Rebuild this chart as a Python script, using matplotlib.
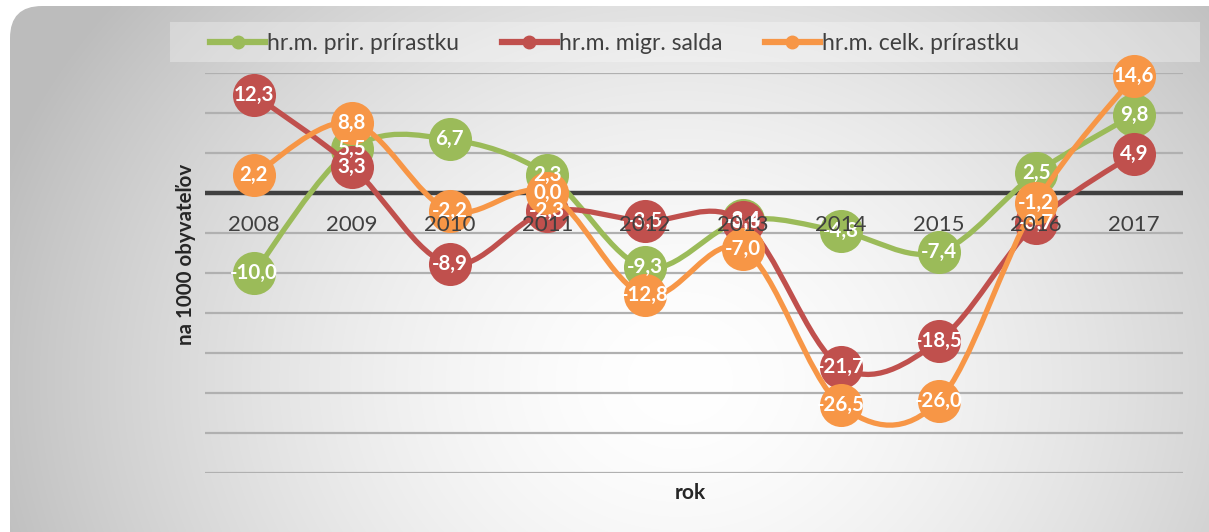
import numpy as np
import matplotlib
matplotlib.use("Agg")
import matplotlib.pyplot as plt
from matplotlib.path import Path
from matplotlib.patches import PathPatch, FancyBboxPatch, Rectangle
from matplotlib.lines import Line2D

plt.rcParams['font.family'] = ['Lato', 'DejaVu Sans']

years = ['2008', '2009', '2010', '2011', '2012', '2013', '2014', '2015', '2016', '2017']
prir = [-10.0, 5.5, 6.7, 2.3, -9.3, -3.4, -4.8, -7.4, 2.5, 9.8]
migr = [12.3, 3.3, -8.9, -2.3, -3.5, -3.6, -21.7, -18.5, -3.7, 4.9]
celk = [2.2, 8.8, -2.2, 0.0, -12.8, -7.0, -26.5, -26.0, -1.2, 14.6]
series_names = ['hr.m. prir. prírastku', 'hr.m. migr. salda', 'hr.m. celk. prírastku']
colors = ['#9BBB59', '#C0504D', '#F79646']
x_label = 'rok'
y_label = 'na 1000 obyvateľov'

W, H = 1209, 532
fig = plt.figure(figsize=(W / 100, H / 100), dpi=100)
fig.patch.set_facecolor('white')

# background with radial gradient inside rounded rectangle
bg = fig.add_axes([0, 0, 1, 1])
bg.set_xlim(0, W)
bg.set_ylim(H, 0)
bg.axis('off')
yy, xx = np.mgrid[0:H, 0:W]
cx, cy = 680, 380
r = np.sqrt(((xx - cx) / 1.0) ** 2 + ((yy - cy) / 0.85) ** 2)
t = np.clip(r / 720.0, 0, 1) ** 1.6
lo, hi = 1.0, 0.74
val = lo + (hi - lo) * t
img = np.dstack([val, val, val])
im = bg.imshow(img, extent=(0, W, H, 0), interpolation='bilinear', zorder=0)
box = FancyBboxPatch((10, 6), W + 40, H + 60, boxstyle='round,pad=0,rounding_size=32',
                     transform=bg.transData, facecolor='none', edgecolor='none')
bg.add_patch(box)
im.set_clip_path(box)

# legend band
bg.add_patch(Rectangle((170, 22), 1030, 40, facecolor='white', alpha=0.3,
                       edgecolor='none', zorder=1))

ax = fig.add_axes([205 / W, 1 - 473 / H, (1183 - 205) / W, (473 - 73) / H])
ax.patch.set_alpha(0)
n = len(years)
x = np.arange(n)
ax.set_xlim(-0.5, n - 0.5)
ax.set_ylim(-35, 15)
for s in ax.spines.values():
    s.set_visible(False)
ax.set_xticks([])
ax.set_yticks(np.arange(-35, 16, 5))
ax.set_yticklabels([])
ax.tick_params(axis='y', length=0)
ax.grid(axis='y', color='#b0b0b0', linewidth=1.6, zorder=1)
ax.axhline(0, color='#404040', linewidth=3.2, zorder=2)


def smooth_path(xs, ys):
    pts = np.column_stack([xs, ys]).astype(float)
    verts = [pts[0]]
    codes = [Path.MOVETO]
    m = len(pts)
    for i in range(m - 1):
        p0 = pts[i - 1] if i > 0 else pts[i]
        p1 = pts[i]
        p2 = pts[i + 1]
        p3 = pts[i + 2] if i + 2 < m else pts[i + 1]
        c1 = p1 + (p2 - p0) / 6.0
        c2 = p2 - (p3 - p1) / 6.0
        verts += [c1, c2, p2]
        codes += [Path.CURVE4] * 3
    return Path(verts, codes)


all_series = [prir, migr, celk]
for k, (vals, col) in enumerate(zip(all_series, colors)):
    z = 3 + k * 2
    pp = PathPatch(smooth_path(x, vals), facecolor='none', edgecolor=col,
                   linewidth=3.8, capstyle='round', joinstyle='round', zorder=z)
    pp.set_clip_on(False)
    ax.add_patch(pp)
    ax.plot(x, vals, linestyle='none', marker='o', markersize=31, color=col,
            markeredgewidth=0, zorder=z + 1, clip_on=False)

for k, vals in enumerate(all_series):
    for xi, v in zip(x, vals):
        ax.text(xi, v, f'{v:.1f}'.replace('.', ','), ha='center', va='center',
                color='white', fontsize=14.8, fontweight='bold', zorder=20)

for xi, lab in zip(x, years):
    ax.text(xi, -4.0, lab, ha='center', va='center', color='#404040',
            fontsize=16, zorder=25)

fig.text(690 / W, 1 - 493 / H, x_label, ha='center', va='center', fontsize=15,
         fontweight='bold', color='#262626')
fig.text(186 / W, 1 - 254 / H, y_label, ha='center', va='center', fontsize=14.8,
         fontweight='bold', color='#262626', rotation=90)

handles = [Line2D([0], [0], color=c, linewidth=4.5, marker='o', markersize=9)
           for c in colors]
fig.legend(handles, series_names, loc='center left', bbox_to_anchor=(210 / W, 1 - 44 / H),
           ncol=3, frameon=False, fontsize=16.5, handlelength=2.4, handletextpad=0.1,
           columnspacing=1.85, labelcolor='#404040', borderaxespad=0, borderpad=0)

fig.savefig('out.png', dpi=100)
